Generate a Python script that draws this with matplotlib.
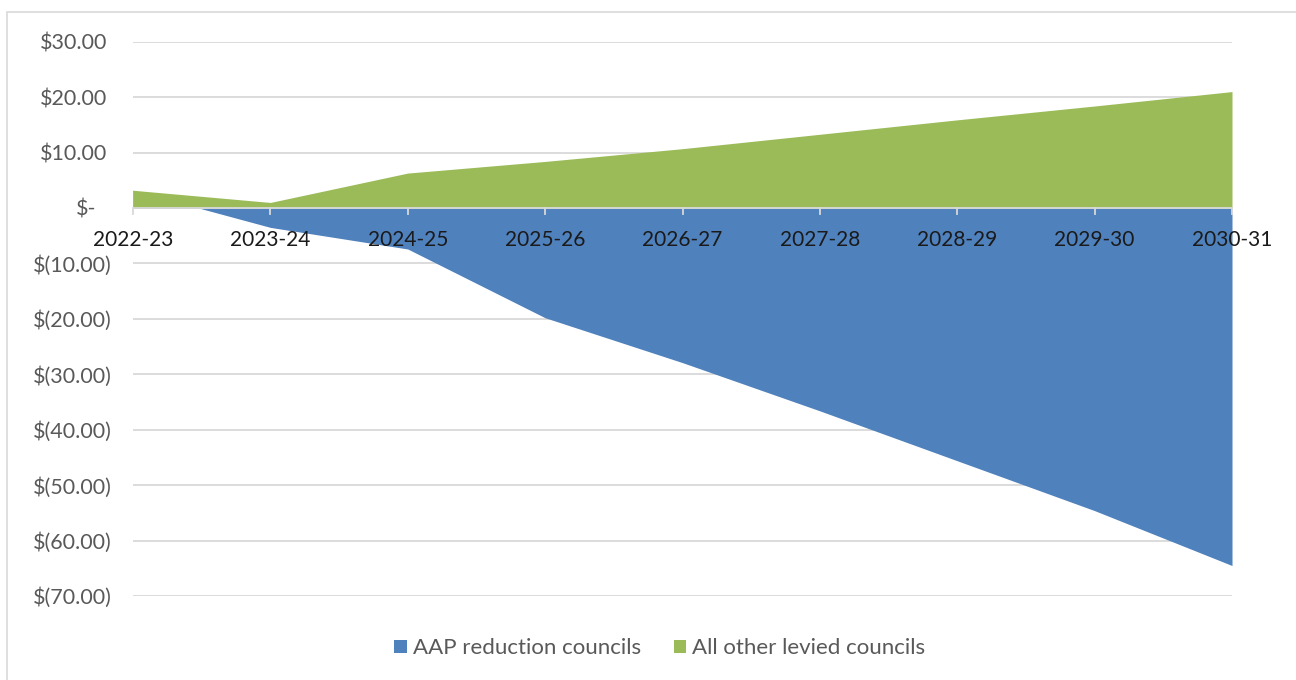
import matplotlib
matplotlib.use("Agg")
import matplotlib.pyplot as plt
from matplotlib.patches import Rectangle
from matplotlib.transforms import ScaledTranslation

years = ["2022-23", "2023-24", "2024-25", "2025-26", "2026-27",
         "2027-28", "2028-29", "2029-30", "2030-31"]
aap_reduction = [3.2, -3.5, -7.4, -19.8, -27.9, -36.6, -45.6, -54.6, -64.5]
all_other = [3.2, 1.0, 6.3, 8.4, 10.7, 13.3, 15.9, 18.4, 21.0]
y_ticks = [30, 20, 10, 0, -10, -20, -30, -40, -50, -60, -70]


def money(v):
    if v == 0:
        return "$-"
    if v < 0:
        return "$(%.2f)" % abs(v)
    return "$%.2f" % v


plt.rcParams['font.family'] = ['Lato', 'DejaVu Sans']
blue = "#4F81BD"
green = "#9BBB59"
grey_txt = "#595959"

fig = plt.figure(figsize=(12.96, 6.8), dpi=100)
# outer chart frame like the spreadsheet chart area
fig.patches.append(Rectangle((7 / 1296, -0.01), 1.5, 1 - 12 / 680 + 0.01,
                             transform=fig.transFigure, fill=False,
                             edgecolor="#D9D9D9", linewidth=1.2))
ax = fig.add_axes([133 / 1296, 1 - 596 / 680, (1232 - 133) / 1296, (596 - 41.7) / 680])

x = list(range(len(years)))
ax.fill_between(x, aap_reduction, 0, color=blue, linewidth=0, label="AAP reduction councils")
ax.fill_between(x, all_other, 0, color=green, linewidth=0, label="All other levied councils")

ax.set_xlim(0, len(years) - 1)
ax.set_ylim(-70, 30)
ax.set_yticks(y_ticks)
ax.set_yticklabels([money(v) for v in y_ticks])
ax.yaxis.grid(True, color="#D9D9D9", linewidth=1.3)
ax.set_axisbelow(True)
ax.tick_params(axis='y', length=0, pad=15, labelsize=15.5, labelcolor=grey_txt)
for s in ax.spines.values():
    s.set_visible(False)

# accounting format: positives and the dash sit left of the bracket column
for v, lab in zip(y_ticks, ax.get_yticklabels()):
    if v > 0:
        shift = -5
    elif v == 0:
        shift = -16
    else:
        continue
    lab.set_transform(lab.get_transform() + ScaledTranslation(shift / 100, 0, fig.dpi_scale_trans))

# category axis sits on the zero line
ax.axhline(0, color="#D9D9D9", linewidth=1.3, zorder=3)
ax.set_xticks([])
for i, yr in enumerate(years):
    ax.plot([i, i], [0, -1.1], color="#D9D9D9", linewidth=1.3, zorder=3, clip_on=False)
    ax.text(i, -4.0, yr, ha="center", va="top", fontsize=15, color="#1a1a1a", zorder=4)

ax.legend(loc="center", bbox_to_anchor=(0.4795, -0.094), ncol=2, frameon=False,
          fontsize=16, labelcolor=grey_txt, handlelength=0.55, handleheight=0.55,
          handletextpad=0.3, columnspacing=1.45)

fig.savefig("out.png", dpi=100)
